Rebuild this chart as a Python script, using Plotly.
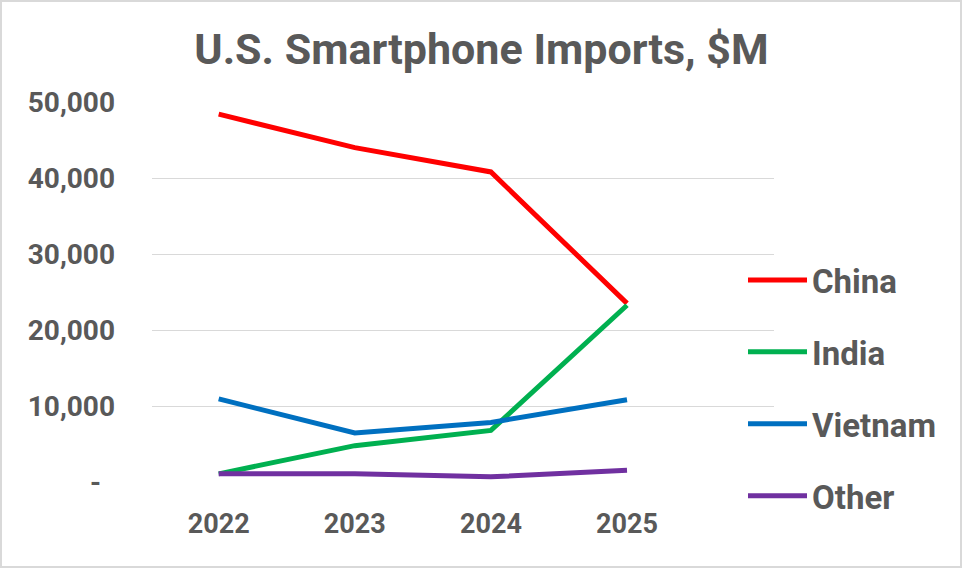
import plotly.graph_objects as go

years = ["2022", "2023", "2024", "2025"]
china = [48400, 44000, 40800, 23500]
india = [1070, 4780, 6790, 23260]
vietnam = [10940, 6450, 7840, 10810]
other = [1070, 1070, 680, 1550]

series_names = ["China", "India", "Vietnam", "Other"]
series_values = [china, india, vietnam, other]
series_colors = ["#FF0000", "#00B050", "#0070C0", "#7030A0"]

tick_vals = [0, 10000, 20000, 30000, 40000, 50000]
tick_text = ["-\u00a0\u00a0", "10,000", "20,000", "30,000", "40,000", "50,000"]

W, H = 963, 569
L, R, T, B = 152, 189, 102, 87
GRAY = "#595959"

fig = go.Figure()
for i, (name, vals, col) in enumerate(zip(series_names, series_values, series_colors)):
    fig.add_trace(go.Scatter(
        x=years, y=vals, name=name, mode="lines",
        line=dict(color=col, width=5),
        legendgroup=f"g{i}",
    ))

pw = W - L - R
ph = H - T - B
fig.add_shape(type="rect", xref="paper", yref="paper",
              x0=(1 - L) / pw, x1=(W - 2 - L) / pw,
              y0=-(H - 2 - T - ph) / ph, y1=1 + (T - 1) / ph,
              line=dict(color="#D9D9D9", width=2), layer="below")

fig.update_layout(
    width=W, height=H,
    margin=dict(l=L, r=R, t=T, b=B),
    paper_bgcolor="white", plot_bgcolor="white",
    font=dict(family="Roboto, Arial, sans-serif", color=GRAY),
    title=dict(
        text="U.S. Smartphone Imports, $M",
        font=dict(size=43, color=GRAY, weight="bold"),
        x=0.5, xref="container", xanchor="center",
        y=1 - 49 / H, yref="container", yanchor="middle",
    ),
    xaxis=dict(
        type="category", range=[-0.49, 4.08],
        showgrid=False, zeroline=False, showline=False, ticks="",
        tickfont=dict(size=27, color=GRAY, weight="bold"),
        ticklabelstandoff=23,
    ),
    yaxis=dict(
        range=[0, 50000], tickvals=tick_vals, ticktext=tick_text,
        showgrid=True, gridcolor="#D9D9D9", gridwidth=1,
        zeroline=False, showline=False, ticks="",
        tickfont=dict(size=28, color=GRAY, weight="bold"),
        ticklabelstandoff=36,
    ),
    showlegend=True,
    legend=dict(
        x=(743 - L) / pw, xanchor="left",
        y=1 - (252 - T) / ph, yanchor="top",
        font=dict(size=33, color=GRAY, weight="bold"),
        itemwidth=59, tracegroupgap=26,
        bgcolor="rgba(255,255,255,0)",
    ),
)

fig.write_html(
    "out.html",
    config={"displayModeBar": False},
    post_script="document.body.style.margin='0';document.body.style.overflow='hidden';",
)
